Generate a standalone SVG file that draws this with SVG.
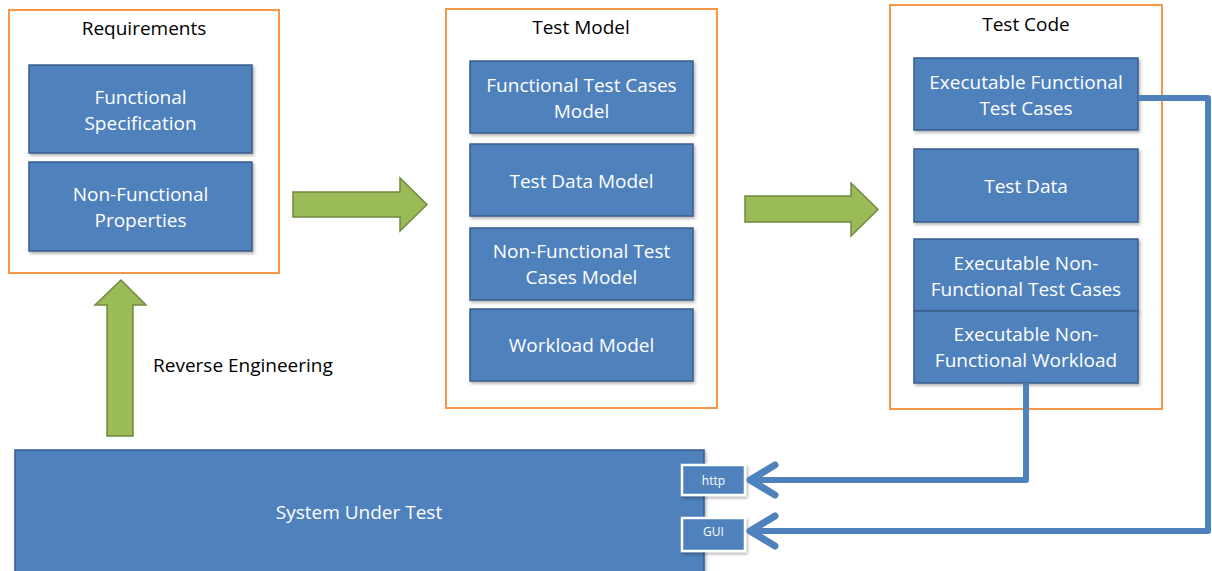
<svg xmlns="http://www.w3.org/2000/svg" width="1212" height="571" viewBox="0 0 1212 571">
  <style>
    .frame { fill: #ffffff; stroke: #F79646; stroke-width: 2; }
    .box { fill: #4F81BD; stroke: #385D8A; stroke-width: 1.5; }
    .port { fill: #4F81BD; stroke: #ffffff; stroke-width: 2.5; }
    .big { fill: #9BBB59; stroke: #71893F; stroke-width: 1.5; }
    .title { font-family: "Open Sans", "Liberation Sans", sans-serif; font-size: 19px; fill: #000000; text-anchor: middle; dominant-baseline: central; }
    .lbl { font-family: "Open Sans", "Liberation Sans", sans-serif; font-size: 19px; fill: #ffffff; text-anchor: middle; dominant-baseline: central; }
    .small { font-family: "Open Sans", "Liberation Sans", sans-serif; font-size: 12px; fill: #ffffff; text-anchor: middle; dominant-baseline: central; }
    .wire { fill: none; stroke: #4F81BD; stroke-width: 6; stroke-linejoin: round; }
    .head { fill: none; stroke: #4F81BD; stroke-width: 7; stroke-linecap: round; stroke-linejoin: round; }
  </style>
  <defs>
    <filter id="shadow" x="-10%" y="-10%" width="130%" height="140%">
      <feDropShadow dx="1.5" dy="2" stdDeviation="1.5" flood-color="#000000" flood-opacity="0.3"/>
    </filter>
  </defs>

  <!-- Requirements -->
  <g id="requirements">
    <rect class="frame" x="9" y="10" width="270" height="263"/>
    <text class="title" x="144" y="28">Requirements</text>
  </g>
  <g id="functional-specification">
    <rect class="box" x="29" y="65" width="223" height="88" filter="url(#shadow)"/>
    <text class="lbl" x="140.5" y="97">Functional</text>
    <text class="lbl" x="140.5" y="123">Specification</text>
  </g>
  <g id="non-functional-properties">
    <rect class="box" x="29" y="162" width="223" height="89" filter="url(#shadow)"/>
    <text class="lbl" x="140.5" y="194">Non-Functional</text>
    <text class="lbl" x="140.5" y="220">Properties</text>
  </g>

  <!-- Test Model -->
  <g id="test-model">
    <rect class="frame" x="446" y="9" width="271" height="399"/>
    <text class="title" x="581" y="27">Test Model</text>
  </g>
  <g id="functional-test-cases-model">
    <rect class="box" x="470" y="61" width="223" height="72" filter="url(#shadow)"/>
    <text class="lbl" x="581.5" y="85">Functional Test Cases</text>
    <text class="lbl" x="581.5" y="111">Model</text>
  </g>
  <g id="test-data-model">
    <rect class="box" x="470" y="144" width="223" height="72" filter="url(#shadow)"/>
    <text class="lbl" x="581.5" y="181">Test Data Model</text>
  </g>
  <g id="non-functional-test-cases-model">
    <rect class="box" x="470" y="228" width="223" height="72" filter="url(#shadow)"/>
    <text class="lbl" x="581.5" y="251">Non-Functional Test</text>
    <text class="lbl" x="581.5" y="277">Cases Model</text>
  </g>
  <g id="workload-model">
    <rect class="box" x="470" y="309" width="223" height="72" filter="url(#shadow)"/>
    <text class="lbl" x="581.5" y="345">Workload Model</text>
  </g>

  <!-- Test Code -->
  <g id="test-code">
    <rect class="frame" x="890" y="5" width="272" height="404"/>
    <text class="title" x="1026" y="24">Test Code</text>
  </g>
  <g id="executable-functional-test-cases">
    <rect class="box" x="914" y="58" width="224" height="72" filter="url(#shadow)"/>
    <text class="lbl" x="1026" y="82">Executable Functional</text>
    <text class="lbl" x="1026" y="108">Test Cases</text>
  </g>
  <g id="test-data">
    <rect class="box" x="914" y="149" width="224" height="73" filter="url(#shadow)"/>
    <text class="lbl" x="1026" y="186">Test Data</text>
  </g>
  <g id="executable-non-functional-test-cases">
    <rect class="box" x="914" y="239" width="224" height="72" filter="url(#shadow)"/>
    <text class="lbl" x="1026" y="263">Executable Non-</text>
    <text class="lbl" x="1026" y="289">Functional Test Cases</text>
  </g>
  <g id="executable-non-functional-workload">
    <rect class="box" x="914" y="311" width="224" height="72" filter="url(#shadow)"/>
    <text class="lbl" x="1026" y="334">Executable Non-</text>
    <text class="lbl" x="1026" y="360">Functional Workload</text>
  </g>

  <!-- System Under Test -->
  <g id="system-under-test">
    <rect class="box" x="15" y="450" width="689" height="130" filter="url(#shadow)"/>
    <text class="lbl" x="359" y="512">System Under Test</text>
  </g>
  <g id="http-port">
    <rect class="port" x="682" y="465" width="63" height="30" filter="url(#shadow)"/>
    <text class="small" x="713.5" y="480">http</text>
  </g>
  <g id="gui-port">
    <rect class="port" x="682" y="518" width="63" height="33" filter="url(#shadow)"/>
    <text class="small" x="713.5" y="531">GUI</text>
  </g>

  <!-- Connectors -->
  <g id="connectors">
    <!-- block arrows between stages -->
    <polygon class="big" points="293,192 400,192 400,178 427,204.5 400,231 400,217 293,217"/>
    <polygon class="big" points="745,196 851,196 851,183 878,209.5 851,236 851,222 745,222"/>
    <polygon class="big" points="107,436 107,305 95,305 121,280 146,305 133,305 133,436"/>
    <text class="title" x="153" y="365" style="text-anchor: start">Reverse Engineering</text>

    <!-- workload to http -->
    <polyline class="wire" points="1026,383 1026,480 752,480"/>
    <polyline class="head" points="775,465 750,480 775,495"/>
    <!-- functional test cases to GUI -->
    <polyline class="wire" points="1138,98 1208,98 1208,531 752,531"/>
    <polyline class="head" points="775,516 750,531 775,546"/>
  </g>
</svg>
